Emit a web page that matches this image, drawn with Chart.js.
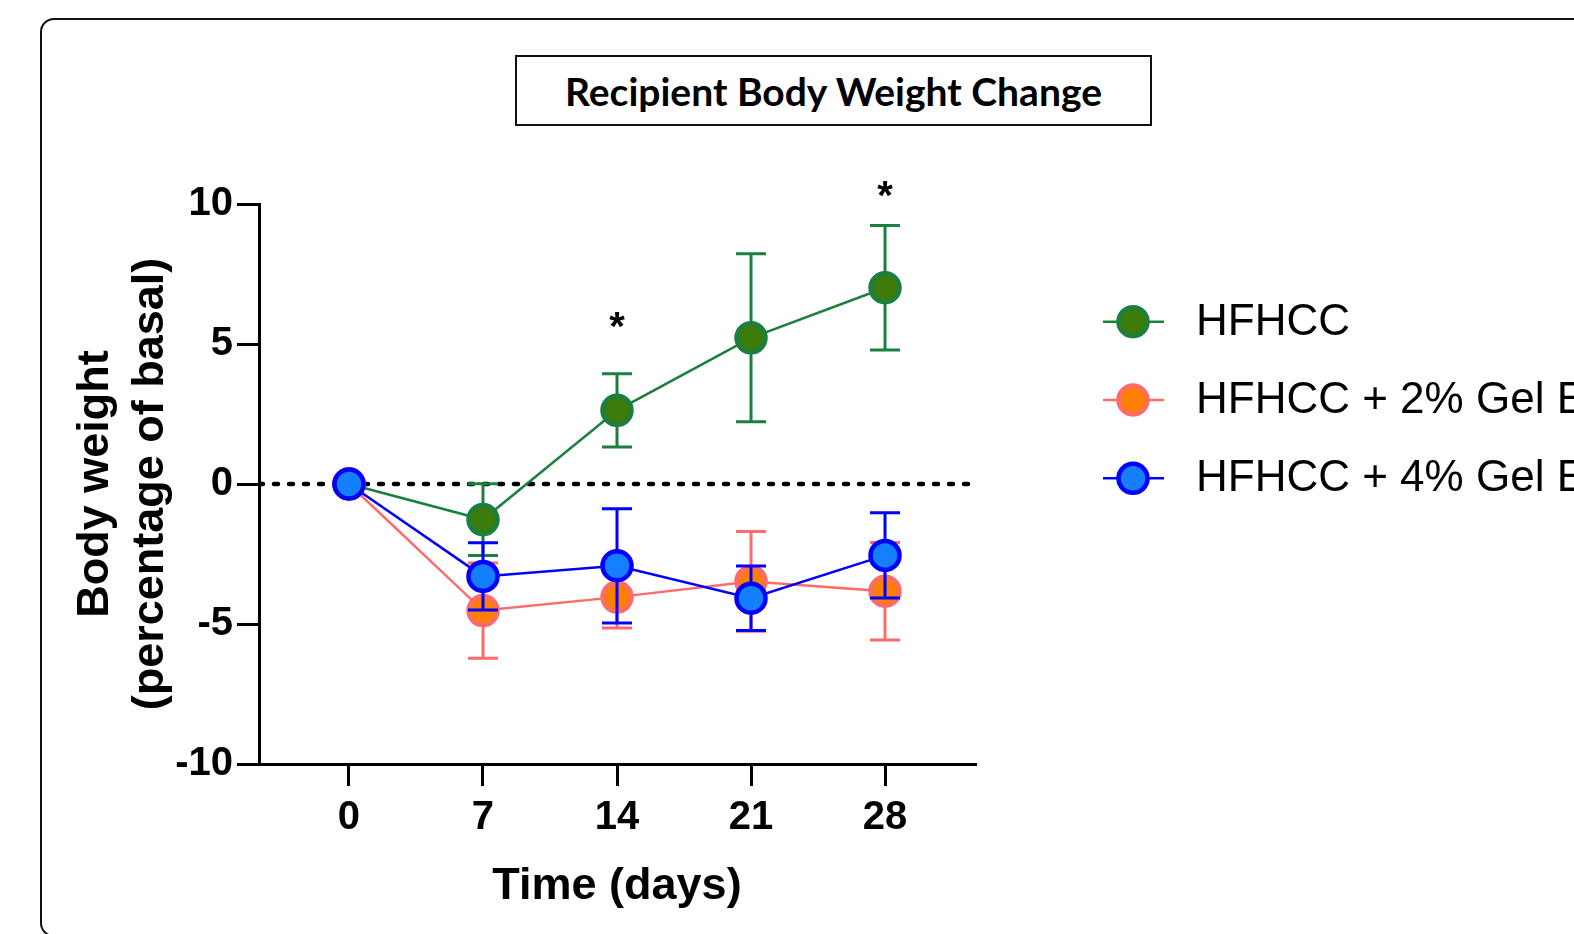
<!DOCTYPE html>
<html>
<head>
<meta charset="utf-8">
<script src="https://cdn.jsdelivr.net/npm/chart.js@4.4.1/dist/chart.umd.min.js"></script>
<style>
  html, body { margin: 0; padding: 0; background: #fff; overflow: hidden; width: 1574px; height: 934px; }
  #frame { position: absolute; left: 40px; top: 18px; width: 1600px; height: 915px; border: 2px solid #111; border-radius: 14px; }
  #title { position: absolute; left: 515px; top: 55px; width: 637px; height: 71px; box-sizing: border-box; border: 2px solid #111;
           font: 700 39px Lato, sans-serif; color: #000; display: flex; align-items: center; justify-content: center; }
  #chart { position: absolute; left: 0; top: 0; }
</style>
</head>
<body>
<div id="frame"></div>
<div id="title">Recipient Body Weight Change</div>
<canvas id="chart" width="1574" height="934"></canvas>
<script>
// data (mean and error per time point)
const days = [0, 7, 14, 21, 28];
const seriesNames = ['HFHCC', 'HFHCC + 2% Gel E', 'HFHCC + 4% Gel E'];
const hfhccMean = [0, -1.27, 2.63, 5.22, 7.01];
const hfhccErr = [0, 1.28, 1.31, 3.0, 2.22];
const gel2Mean = [0, -4.52, -4.04, -3.48, -3.83];
const gel2Err = [0, 1.7, 1.1, 1.78, 1.74];
const gel4Mean = [0, -3.3, -2.92, -4.08, -2.55];
const gel4Err = [0, 1.2, 2.04, 1.15, 1.52];
const starDays = [14, 28];
const starValues = [5.85, 10.55];
const xTicks = [0, 7, 14, 21, 28];
const yTicks = [-10, -5, 0, 5, 10];
const xMin = -4.7, xMax = 32.7, yMin = -10, yMax = 10;

const FONT = 'Liberation Sans, Arial, sans-serif';

function points(mean) {
    return days.map((d, i) => ({ x: d, y: mean[i] }));
}

function series(label, mean, err, line, fill, order) {
    return {
        label: label,
        data: points(mean),
        err: err,
        borderColor: line,
        backgroundColor: fill,
        pointBorderColor: line,
        pointBackgroundColor: fill,
        borderWidth: 2.5,
        pointRadius: 14.5,
        pointBorderWidth: 4.5,
        order: order
    };
}

// draw error bars under each dataset's own line and markers
const errorBars = {
    id: 'errorBars',
    beforeDatasetDraw(chart, args) {
        const ds = chart.data.datasets[args.index];
        if (!ds.err) return;
        const { ctx, scales: { x, y } } = chart;
        ctx.save();
        ctx.strokeStyle = ds.borderColor;
        ctx.lineWidth = 3;
        ds.data.forEach((p, i) => {
            const e = ds.err[i];
            if (!e) return;
            const px = x.getPixelForValue(p.x);
            const top = y.getPixelForValue(p.y + e);
            const bot = y.getPixelForValue(p.y - e);
            ctx.beginPath();
            ctx.moveTo(px, top); ctx.lineTo(px, bot);
            ctx.moveTo(px - 15, top); ctx.lineTo(px + 15, top);
            ctx.moveTo(px - 15, bot); ctx.lineTo(px + 15, bot);
            ctx.stroke();
        });
        ctx.restore();
    }
};

// significance asterisks
const stars = {
    id: 'stars',
    afterDatasetsDraw(chart) {
        const { ctx, scales: { x, y } } = chart;
        ctx.save();
        ctx.fillStyle = '#000';
        ctx.font = 'bold 40px ' + FONT;
        ctx.textAlign = 'center';
        ctx.textBaseline = 'alphabetic';
        const m = ctx.measureText('*');
        const shift = (m.actualBoundingBoxAscent - m.actualBoundingBoxDescent) / 2;
        starDays.forEach((d, i) => {
            ctx.fillText('*', x.getPixelForValue(d), y.getPixelForValue(starValues[i]) + shift);
        });
        ctx.restore();
    }
};

// legend on the right, line through marker like the original
const sideLegend = {
    id: 'sideLegend',
    afterDraw(chart) {
        const { ctx, chartArea } = chart;
        const items = chart.data.datasets.filter(d => d.err);
        const cx = chartArea.right + 158;
        ctx.save();
        items.forEach((ds, i) => {
            const cy = chartArea.top + 117.7 + i * 78.3;
            ctx.strokeStyle = ds.borderColor;
            ctx.lineWidth = 2.5;
            ctx.beginPath();
            ctx.moveTo(cx - 30, cy); ctx.lineTo(cx + 31, cy);
            ctx.stroke();
            ctx.beginPath();
            ctx.arc(cx, cy, 14.5, 0, Math.PI * 2);
            ctx.fillStyle = ds.pointBackgroundColor;
            ctx.fill();
            ctx.lineWidth = 4.5;
            ctx.stroke();
            ctx.fillStyle = '#000';
            ctx.font = '44px ' + FONT;
            ctx.textAlign = 'left';
            ctx.textBaseline = 'middle';
            ctx.fillText(ds.label, cx + 63, cy + 1);
        });
        ctx.restore();
    }
};

const tickFont = { family: FONT, size: 40, weight: 'bold' };
const titleFont = { family: FONT, size: 45, weight: 'bold', lineHeight: 1.22 };

new Chart(document.getElementById('chart'), {
    type: 'line',
    data: {
        datasets: [
            series(seriesNames[0], hfhccMean, hfhccErr, '#1a7f3f', '#3c7a0a', 3),
            series(seriesNames[1], gel2Mean, gel2Err, '#ff6b6b', '#ff7f00', 2),
            series(seriesNames[2], gel4Mean, gel4Err, '#0000ff', '#1480ff', 1),
            {
                label: '',
                data: [{ x: xMin, y: 0 }, { x: xMax, y: 0 }],
                borderColor: '#000',
                borderWidth: 4.5,
                borderDash: [4, 11],
                borderCapStyle: 'round',
                pointRadius: 0,
                order: 10
            }
        ]
    },
    options: {
        responsive: false,
        devicePixelRatio: 1,
        animation: false,
        events: [],
        layout: { padding: { top: 204, right: 599, bottom: 20, left: 0 } },
        plugins: {
            legend: { display: false },
            tooltip: { enabled: false }
        },
        scales: {
            x: {
                type: 'linear',
                min: xMin,
                max: xMax,
                afterBuildTicks: axis => { axis.ticks = xTicks.map(v => ({ value: v })); },
                afterFit: axis => { axis.height = 150; },
                grid: { drawOnChartArea: false, tickLength: 22, color: '#000', lineWidth: 3 },
                border: { color: '#000', width: 3 },
                ticks: { color: '#000', font: tickFont, padding: 8, maxRotation: 0, autoSkip: false },
                title: {
                    display: true,
                    text: 'Time (days)',
                    color: '#000',
                    font: titleFont,
                    padding: { top: 0, bottom: 0 }
                }
            },
            y: {
                min: yMin,
                max: yMax,
                afterBuildTicks: axis => { axis.ticks = yTicks.map(v => ({ value: v })); },
                afterFit: axis => { axis.width = 259; },
                grid: { drawOnChartArea: false, tickLength: 22, color: '#000', lineWidth: 3 },
                border: { color: '#000', width: 3 },
                ticks: { color: '#000', font: tickFont, padding: 4 },
                title: {
                    display: true,
                    text: ['Body weight', '(percentage of basal)'],
                    color: '#000',
                    font: titleFont,
                    padding: { top: 68, bottom: 0 }
                }
            }
        }
    },
    plugins: [errorBars, stars, sideLegend]
});
</script>
</body>
</html>
